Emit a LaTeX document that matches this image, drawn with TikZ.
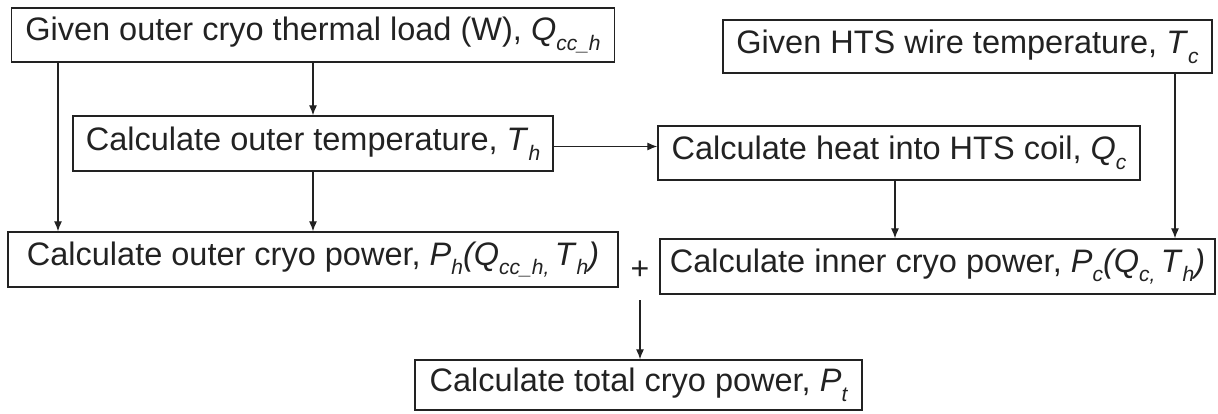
\documentclass[tikz,border=0pt]{standalone}
\usepackage{fontspec}
\setmainfont{Liberation Sans}
\usetikzlibrary{arrows.meta}
\newcommand{\sbs}[1]{\raisebox{-0.3em}{\fontsize{21}{21}\selectfont\itshape #1}}
\newcommand{\iv}[1]{\textit{#1}}
\definecolor{ink}{HTML}{222222}
\tikzset{
  box/.style={draw=ink, line width=1.3pt, inner sep=0pt, align=center, text=ink,
              font=\fontsize{32.5}{36}\selectfont},
  arr/.style={draw=ink, line width=1.2pt, -{Latex[length=10pt,width=8pt]}},
  ln/.style={draw=ink, line width=1.2pt}
}
\begin{document}
\begin{tikzpicture}[x=1pt,y=-1pt]
\useasboundingbox (0,0) rectangle (1218,414);
\node[box, minimum width=603pt, minimum height=54pt] (b1) at (313,35) {Given outer cryo thermal load (W), \iv{Q}\sbs{cc\_h}};
\node[box, minimum width=480pt, minimum height=55pt] (b2) at (313,143.5) {Calculate outer temperature, \iv{T}\sbs{h}};
\node[box, minimum width=489pt, minimum height=53pt] (b5) at (967.5,46.5) {Given HTS wire temperature, \iv{T}\sbs{c}};
\node[box, minimum width=482pt, minimum height=54pt] (b4) at (899,153) {Calculate heat into HTS coil, \iv{Q}\sbs{c}};
\node[box, minimum width=610pt, minimum height=55pt] (b3) at (313,259.5) {Calculate outer cryo power, \iv{P}\sbs{h}\iv{(Q}\sbs{cc\_h,}\,\iv{T}\sbs{h}\iv{)}};
\node[box, minimum width=555pt, minimum height=55pt] (b6) at (937.5,266.5) {Calculate inner cryo power, \iv{P}\sbs{c}\iv{(Q}\sbs{c,}\,\iv{T}\sbs{h}\iv{)}};
\node[box, minimum width=447pt, minimum height=50pt] (b7) at (638.5,385) {Calculate total cryo power, \iv{P}\sbs{t}};
\node[text=ink, inner sep=0pt, font=\fontsize{32}{34}\selectfont] (plus) at (640,270) {+};

\draw[arr] (b1.south) -- (b2.north);
\draw[arr] ([xshift=-255pt]b1.south) -- ([xshift=-255pt]b1.south |- b3.north);
\draw[arr] (b2.south) -- (b3.north);
\draw[arr] ([yshift=-3pt]b2.east) -- ([yshift=-3pt]b2.east -| b4.west);
\draw[arr] ([xshift=-4pt]b4.south) -- ([xshift=-4pt]b4.south |- b6.north);
\draw[arr] ([xshift=207.5pt]b5.south) -- ([xshift=207.5pt]b5.south |- b6.north);
\draw[arr] ([yshift=-30pt]plus.center) -- (plus.center |- b7.north);
\end{tikzpicture}
\end{document}
